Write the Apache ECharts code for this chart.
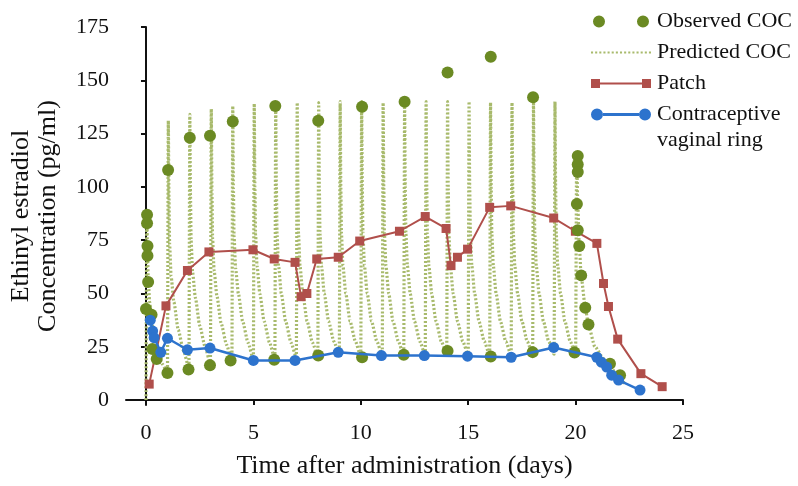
<!DOCTYPE html>
<html>
<head>
<meta charset="utf-8">
<script src="https://cdn.jsdelivr.net/npm/echarts@6/dist/echarts.min.js"></script>
<style>
  html, body { margin: 0; padding: 0; background: #fff; }
  #main { width: 798px; height: 486px; }
</style>
</head>
<body>
<div id="main"></div>
<script>
var xTicks = [0, 5, 10, 15, 20, 25];
var yTicks = [0, 25, 50, 75, 100, 125, 150, 175];

// observed COC concentrations [day, pg/ml]
var observedCOC = [
    [0.05, 86.9], [0.05, 83], [0.07, 72.3], [0.07, 67.7], [0.1, 55.4], [0, 42.7],
    [0.26, 40], [0.3, 24], [0.5, 19.3],
    [1.03, 107.9], [1.0, 12.7], [2.04, 123], [1.98, 14.4], [2.98, 124], [2.98, 16.3],
    [4.04, 130.7], [3.94, 18.6], [6.02, 138], [5.97, 18.9], [8.02, 131], [8.02, 20.9],
    [10.06, 137.6], [10.06, 20.1], [12.04, 139.9], [12.0, 21.3], [14.04, 153.7], [14.04, 23],
    [16.05, 161], [16.05, 20.4], [18.02, 142], [18.0, 22.5], [19.95, 22.3],
    [20.1, 114.5], [20.1, 110.5], [20.1, 107], [20.06, 92], [20.1, 79.7], [20.17, 72.3],
    [20.26, 58.5], [20.45, 43.3], [20.6, 35.5], [21.6, 17], [22.07, 11.7]
];

// predicted COC profile, one row per daily dose
var predictedCOC = [
    [0, 0], [0.04, 87], [0.07, 70], [0.1, 58], [0.17, 46], [0.3, 35], [0.5, 24], [0.75, 17],
    [1, 13], [1.04, 131], [1.07, 95], [1.1, 73], [1.17, 58], [1.3, 46], [1.5, 33], [1.75, 23],
    [2, 15], [2.04, 134], [2.07, 97], [2.1, 75], [2.17, 60], [2.3, 48], [2.5, 35], [2.75, 25],
    [3, 17], [3.04, 136.5], [3.07, 98], [3.1, 76], [3.17, 61], [3.3, 49], [3.5, 36], [3.75, 26],
    [4, 18], [4.04, 138], [4.07, 99], [4.1, 77], [4.17, 62], [4.3, 50], [4.5, 37], [4.75, 27],
    [5, 19], [5.04, 139], [5.07, 100], [5.1, 78], [5.17, 63], [5.3, 50], [5.5, 37], [5.75, 27],
    [6, 19.5], [6.04, 139.5], [6.07, 100], [6.1, 78], [6.17, 63], [6.3, 50], [6.5, 37], [6.75, 27],
    [7, 20], [7.04, 139.5], [7.07, 100], [7.1, 78], [7.17, 63], [7.3, 50], [7.5, 37], [7.75, 27],
    [8, 20.5], [8.04, 139.5], [8.07, 100], [8.1, 78], [8.17, 63], [8.3, 50], [8.5, 37], [8.75, 27.5],
    [9, 21], [9.04, 140], [9.07, 100], [9.1, 78], [9.17, 63], [9.3, 50], [9.5, 37], [9.75, 27.5],
    [10, 20.5], [10.04, 140], [10.07, 100], [10.1, 78], [10.17, 63], [10.3, 50], [10.5, 37], [10.75, 27.5],
    [11, 21], [11.04, 139.5], [11.07, 100], [11.1, 78], [11.17, 63], [11.3, 50], [11.5, 37], [11.75, 27.5],
    [12, 21], [12.04, 140], [12.07, 100], [12.1, 78], [12.17, 63], [12.3, 50], [12.5, 37], [12.75, 27.5],
    [13, 21], [13.04, 140], [13.07, 100], [13.1, 78], [13.17, 63], [13.3, 50], [13.5, 37], [13.75, 27.5],
    [14, 21.5], [14.04, 140], [14.07, 100], [14.1, 78], [14.17, 63], [14.3, 50], [14.5, 37], [14.75, 27.5],
    [15, 21], [15.04, 140], [15.07, 100], [15.1, 78], [15.17, 63], [15.3, 50], [15.5, 37], [15.75, 27.5],
    [16, 21], [16.04, 139.5], [16.07, 100], [16.1, 78], [16.17, 63], [16.3, 50], [16.5, 37], [16.75, 27.5],
    [17, 21], [17.04, 139.5], [17.07, 100], [17.1, 78], [17.17, 63], [17.3, 50], [17.5, 37], [17.75, 27.5],
    [18, 21.5], [18.04, 140], [18.07, 100], [18.1, 78], [18.17, 63], [18.3, 50], [18.5, 37], [18.75, 27.5],
    [19, 21.5], [19.04, 140], [19.07, 100], [19.1, 78], [19.17, 63], [19.3, 50], [19.5, 37], [19.75, 27.5],
    [20, 21.5], [20.05, 116], [20.1, 92], [20.17, 73], [20.26, 58], [20.45, 43.5], [20.6, 35],
    [20.9, 25], [21.3, 19.5], [21.6, 16], [22.0, 10.5], [22.3, 7.5]
];

var patch = [
    [0.15, 7.5], [0.93, 44.2], [1.93, 60.8], [2.93, 69.5], [4.98, 70.5], [5.97, 66.2],
    [6.94, 64.6], [7.22, 48.5], [7.49, 50], [7.95, 66.2], [8.95, 67], [9.95, 74.6],
    [11.8, 79.2], [13.0, 86.1], [13.97, 80.5], [14.2, 63.1], [14.5, 67], [14.97, 70.8],
    [16.0, 90.4], [16.98, 91.1], [18.98, 85.4], [19.99, 79.2], [20.99, 73.5], [21.3, 54.7],
    [21.53, 43.9], [21.96, 28.6], [23.04, 12.4], [24.03, 6.3]
];

var ring = [
    [0.2, 37.5], [0.31, 32.4], [0.38, 29.3], [0.69, 22.4], [1.0, 29], [1.93, 23.6],
    [2.98, 24.4], [5.0, 18.6], [6.94, 18.6], [8.95, 22.4], [10.96, 20.9], [12.96, 20.9],
    [14.97, 20.6], [17.0, 20.1], [18.98, 24.7], [20.99, 20.1], [21.2, 17.8], [21.45, 15.5],
    [21.68, 11.7], [22.0, 9.4], [23.0, 4.7]
];

var font = 'Liberation Serif';
var green = '#6b8a23';
var dotGreen = '#a8ba6c';
var red = '#b04f4b';
var blue = '#2d73cd';

// dotted legend key for the predicted curve
var dotKey = 'path://';
for (var i = 0; i < 15; i++) {
    dotKey += 'M' + (i * 4) + ',0h2v2h-2z';
}

var myChart = echarts.init(document.getElementById('main'));
option = {
    backgroundColor: '#fff',
    animation: false,
    grid: { left: 125, right: 115, top: 27, bottom: 74 },
    legend: {
        orient: 'vertical',
        left: 586,
        top: 4,
        itemWidth: 60,
        itemHeight: 12,
        itemGap: 6,
        textStyle: { fontFamily: font, fontSize: 22, lineHeight: 25, color: '#111', padding: [0, 0, 0, 1] },
        formatter: function (name) {
            return name === 'Contraceptive vaginal ring' ? 'Contraceptive' : name;
        },
        data: [
            { name: 'Observed COC', icon: 'path://M4,6a6,6 0 1,0 12,0a6,6 0 1,0 -12,0zM48,6a6,6 0 1,0 12,0a6,6 0 1,0 -12,0z' },
            { name: 'Predicted COC', icon: dotKey },
            { name: 'Patch', icon: 'path://M0,0h9v9h-9zM9,3.5h42v2h-42zM51,0h9v9h-9z' },
            { name: 'Contraceptive vaginal ring', icon: 'path://M0,6a6,6 0 1,0 12,0a6,6 0 1,0 -12,0zM12,4.5h36v3h-36zM48,6a6,6 0 1,0 12,0a6,6 0 1,0 -12,0z' }
        ]
    },
    graphic: [{
        type: 'text',
        left: 657,
        top: 129,
        style: { text: 'vaginal ring', font: '22px "Liberation Serif"', fill: '#111' }
    }],
    xAxis: {
        type: 'value',
        min: -0.93,
        max: 25,
        name: 'Time after administration (days)',
        nameLocation: 'middle',
        nameGap: 46,
        nameTextStyle: { fontFamily: font, fontSize: 26, lineHeight: 30, color: '#111' },
        splitLine: { show: false },
        axisLine: { lineStyle: { color: '#111', width: 2 } },
        axisTick: { customValues: xTicks, length: 5, lineStyle: { color: '#111', width: 2 } },
        axisLabel: { customValues: xTicks, margin: 16, fontFamily: font, fontSize: 22, lineHeight: 24, color: '#111' }
    },
    yAxis: {
        type: 'value',
        min: -2.3,
        max: 175,
        name: 'Ethinyl estradiol\nConcentration (pg/ml)',
        nameLocation: 'middle',
        nameRotate: 90,
        nameGap: 64,
        nameTextStyle: { fontFamily: font, fontSize: 26, lineHeight: 27, color: '#111' },
        splitLine: { show: false },
        axisLine: { show: true, lineStyle: { color: '#111', width: 2 } },
        axisTick: { show: true, customValues: yTicks, length: 5, lineStyle: { color: '#111', width: 2 } },
        axisLabel: { customValues: yTicks, margin: 17, fontFamily: font, fontSize: 22, color: '#111' }
    },
    series: [
        {
            name: 'Predicted COC',
            type: 'line',
            data: predictedCOC,
            symbol: 'none',
            smooth: 0.2,
            smoothMonotone: 'x',
            itemStyle: { color: dotGreen },
            lineStyle: { color: dotGreen, width: 3.2, type: [2, 2] },
            z: 1
        },
        {
            name: 'Patch',
            type: 'line',
            data: patch,
            symbol: 'rect',
            symbolSize: 9,
            itemStyle: { color: red },
            lineStyle: { color: red, width: 2 },
            z: 2
        },
        {
            name: 'Observed COC',
            type: 'scatter',
            data: observedCOC,
            symbolSize: 12,
            itemStyle: { color: green, opacity: 1 },
            z: 3
        },
        {
            name: 'Contraceptive vaginal ring',
            type: 'line',
            data: ring,
            symbol: 'circle',
            symbolSize: 11,
            itemStyle: { color: blue },
            lineStyle: { color: blue, width: 2.5 },
            z: 4
        }
    ]
};
myChart.setOption(option);
</script>
</body>
</html>
